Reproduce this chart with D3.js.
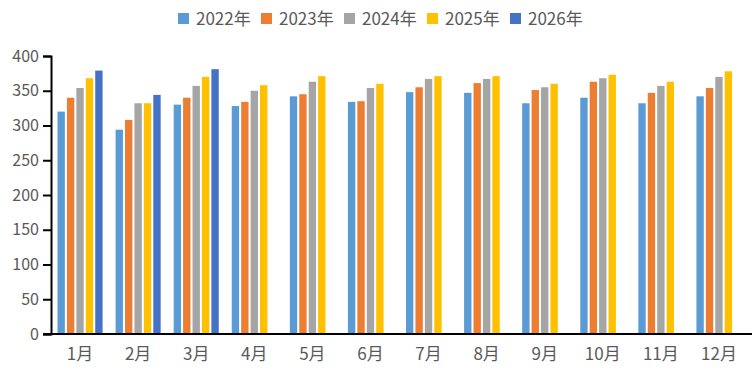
<!DOCTYPE html>
<html>
<head>
<meta charset="utf-8">
<script src="https://cdn.jsdelivr.net/npm/d3@7/dist/d3.min.js"></script>
<style>
  body { margin: 0; background: #fff; }
  text { font-family: "Noto Sans CJK JP", "Liberation Sans", sans-serif; fill: #595959; }
</style>
</head>
<body>
<div id="chart-area"></div>
<script>
var months = ["1月", "2月", "3月", "4月", "5月", "6月", "7月", "8月", "9月", "10月", "11月", "12月"];
var seriesNames = ["2022年", "2023年", "2024年", "2025年", "2026年"];
var seriesColors = ["#5B9BD5", "#ED7D31", "#A5A5A5", "#FFC000", "#4472C4"];
var yTicks = [0, 50, 100, 150, 200, 250, 300, 350, 400];

var v2022 = [320, 294, 330, 328, 342, 334, 348, 347, 332, 340, 332, 342];
var v2023 = [340, 308, 340, 334, 345, 335, 355, 361, 351, 363, 347, 354];
var v2024 = [354, 332, 357, 350, 363, 354, 367, 367, 355, 368, 357, 370];
var v2025 = [368, 332, 370, 358, 371, 360, 371, 371, 360, 373, 363, 378];
var v2026 = [379, 344, 381, null, null, null, null, null, null, null, null, null];

var allValues = [v2022, v2023, v2024, v2025, v2026];

var W = 754, H = 377;
var margin = { top: 56, right: 6, bottom: 43, left: 51 },
    width = W - margin.left - margin.right,
    height = H - margin.top - margin.bottom;

var svg = d3.select("#chart-area")
    .append("svg")
    .attr("width", W)
    .attr("height", H);

var g = svg.append("g")
    .attr("transform", "translate(" + margin.left + "," + margin.top + ")");

var x0 = d3.scaleBand()
    .domain(months)
    .range([0, width])
    .paddingInner(0.224)
    .paddingOuter(0.112);

var x1 = d3.scaleBand()
    .domain(seriesNames)
    .range([0, x0.bandwidth()])
    .paddingInner(0.22);

var y = d3.scaleLinear()
    .domain([0, 400])
    .range([height, 0]);

// bars
seriesNames.forEach(function(name, si) {
    var data = months.map(function(m, i) { return { month: m, value: allValues[si][i] }; })
        .filter(function(d) { return d.value !== null; });
    g.append("g")
        .selectAll("rect")
        .data(data)
        .enter().append("rect")
        .attr("x", function(d) { return x0(d.month) + x1(name); })
        .attr("y", function(d) { return y(d.value); })
        .attr("width", x1.bandwidth())
        .attr("height", function(d) { return height - y(d.value); })
        .attr("fill", seriesColors[si]);
});

// y axis
var yAxis = g.append("g")
    .call(d3.axisLeft(y).tickValues(yTicks).tickSize(8).tickPadding(4));
yAxis.select(".domain").attr("stroke", "#000").attr("stroke-width", 2);
yAxis.selectAll(".tick line").attr("stroke", "#000").attr("stroke-width", 2);
yAxis.selectAll(".tick text").style("font-size", "16px").attr("fill", "#595959");

// x axis
var xAxis = g.append("g")
    .attr("transform", "translate(0," + height + ")")
    .call(d3.axisBottom(x0).tickSize(0).tickPadding(14));
xAxis.select(".domain").attr("stroke", "#000").attr("stroke-width", 2)
    .attr("d", "M-8,0H" + (width + 4));
xAxis.selectAll(".tick text").style("font-size", "17px").attr("fill", "#595959");

// legend
var legend = svg.append("g")
    .attr("transform", "translate(178,13)");
seriesNames.forEach(function(name, i) {
    var item = legend.append("g").attr("transform", "translate(" + (i * 83) + ",0)");
    item.append("rect")
        .attr("width", 11)
        .attr("height", 11)
        .attr("fill", seriesColors[i]);
    item.append("text")
        .attr("x", 18)
        .attr("y", 12)
        .style("font-size", "17px")
        .text(name);
});
</script>
</body>
</html>
